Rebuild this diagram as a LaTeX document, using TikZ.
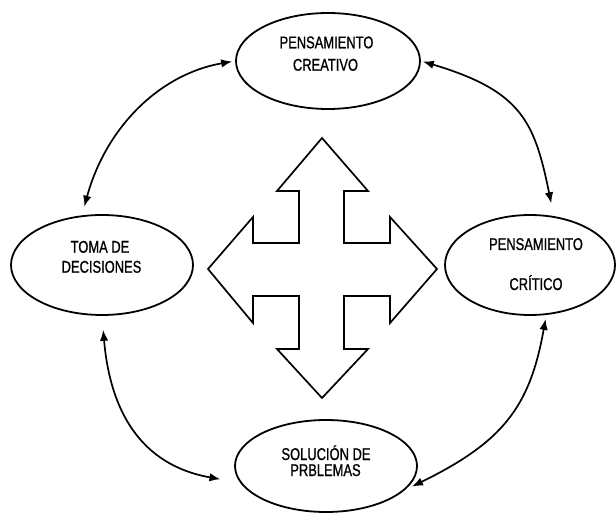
\documentclass[tikz,border=0pt]{standalone}
\usepackage{fontspec}
\newfontfamily\narrowfont[FakeStretch=0.76,FakeBold=0.9]{Liberation Sans}
\usetikzlibrary{arrows.meta,shapes.geometric}
\begin{document}
\begin{tikzpicture}[x=1pt,y=-1pt,
  oval/.style={ellipse, draw, line width=1.8pt, inner sep=0pt},
  lbl/.style={anchor=base, inner sep=0pt, font=\narrowfont\fontsize{17}{19}\selectfont},
  link/.style={line width=1.7pt, {Latex[length=11pt,width=8.5pt]}-{Latex[length=11pt,width=8.5pt]}},
  crossshape/.style={draw, line width=1.7pt, line join=miter}]
\fill[white] (0,0) rectangle (616,513);
\useasboundingbox (0,0) rectangle (616,513);

\node[oval, minimum width=184pt, minimum height=96pt] (creat) at (328,61) {};
\node[oval, minimum width=182pt, minimum height=100pt] (decis) at (102,265) {};
\node[oval, minimum width=170pt, minimum height=100pt] (crit) at (530,265) {};
\node[oval, minimum width=182pt, minimum height=92pt] (solu) at (326,466) {};

\node[lbl] (t1a) at (326.5,48.3) {PENSAMIENTO};
\node[lbl] (t1b) at (325.5,70.7) {CREATIVO};
\node[lbl] (t2a) at (100,252.7) {TOMA DE};
\node[lbl] (t2b) at (101.5,272.7) {DECISIONES};
\node[lbl] (t3a) at (536,250) {PENSAMIENTO};
\node[lbl] (t3b) at (536,290) {CRÍTICO};
\node[lbl] (t4a) at (326,460) {SOLUCIÓN DE};
\node[lbl] (t4b) at (325.5,476) {PRBLEMAS};

\draw[link, shorten <=3pt, shorten >=9pt] (creat.west) .. controls (160,74) and (106,127) .. (decis.112);
\draw[link, shorten <=2pt, shorten >=13pt] (creat.east) .. controls (522,91) and (534.6,122) .. (crit.64);
\draw[link, shorten <=14pt, shorten >=20pt] (decis.south) .. controls (110,410) and (140,465) .. (solu.191);
\draw[link, shorten <=4pt, shorten >=8pt] (crit.288) .. controls (529.8,408) and (502,442.3) .. (solu.343);

\draw[crossshape] (322,138) -- (368,191) -- (344,191) -- (344,243) -- (390,243) -- (390,217)
  -- (437,269) -- (390,323) -- (390,296) -- (344,296) -- (344,349) -- (368,349)
  -- (322,398) -- (277,349) -- (299,349) -- (299,296) -- (253,296) -- (253,323)
  -- (208,269) -- (253,217) -- (253,243) -- (299,243) -- (299,191) -- (277,191) -- cycle;
\end{tikzpicture}
\end{document}
